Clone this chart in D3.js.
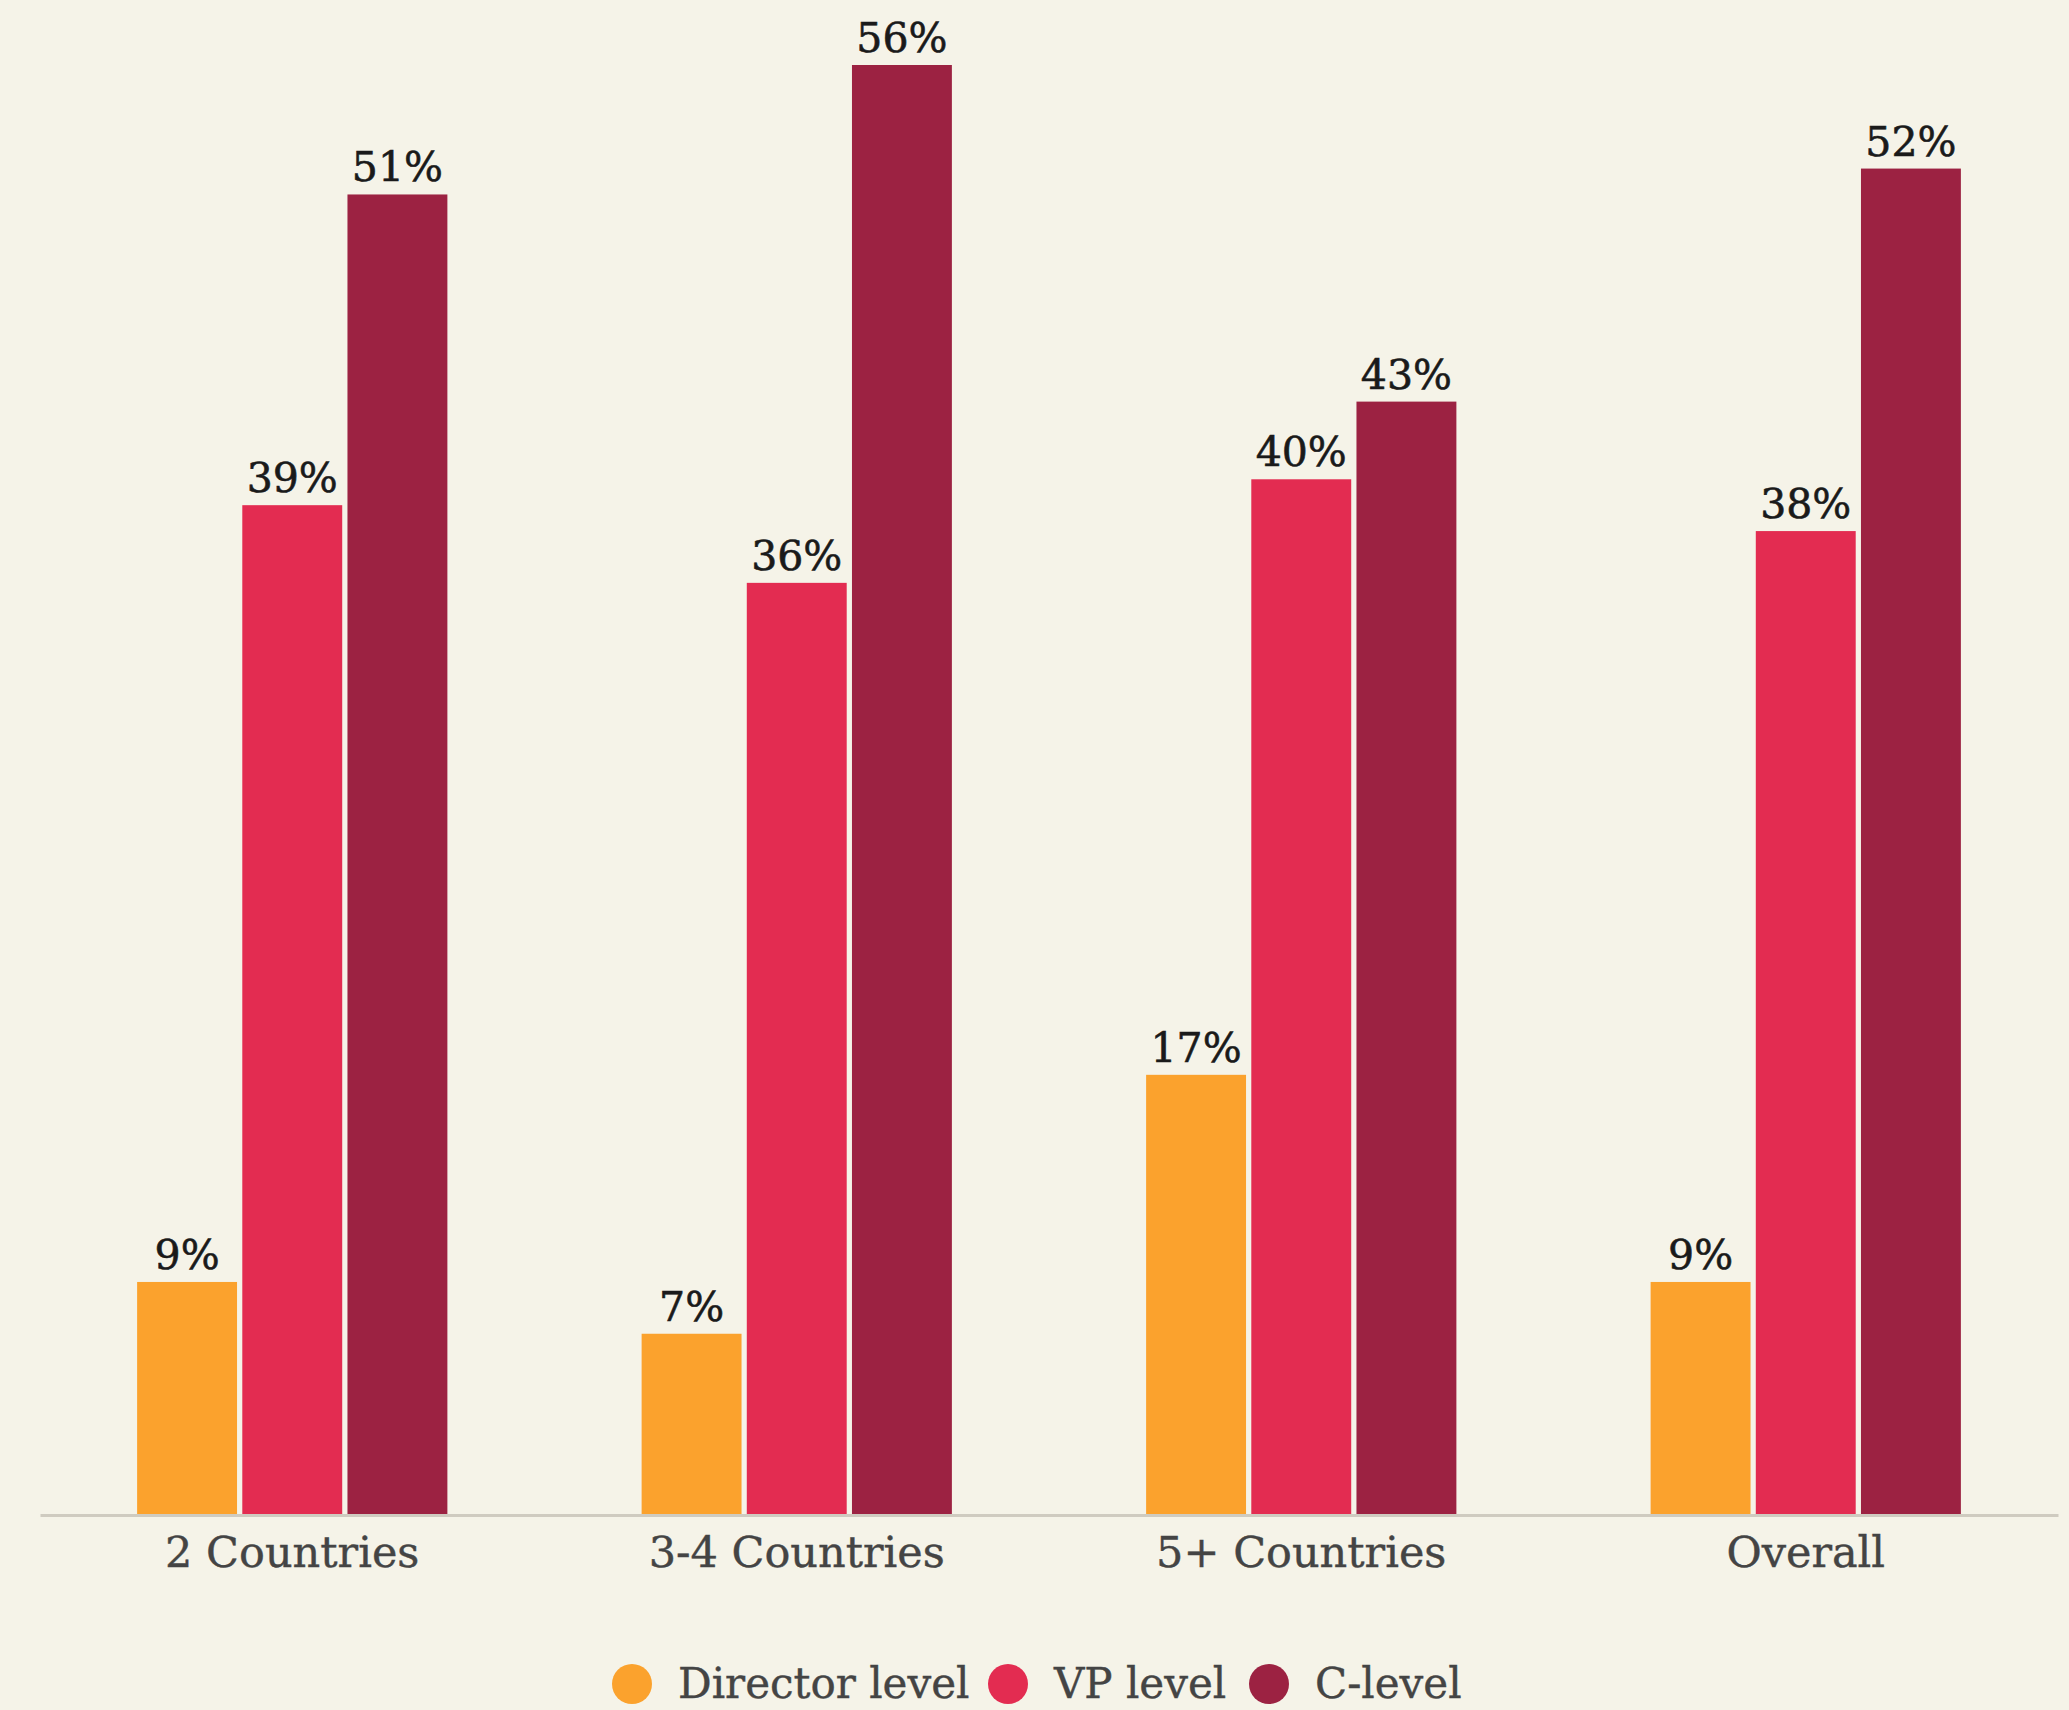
<!DOCTYPE html>
<html><head><meta charset="utf-8">
<script src="https://cdn.jsdelivr.net/npm/d3@7"></script>
<style>
html,body{margin:0;padding:0;background:#f5f3e8;}
svg{display:block;}
</style></head>
<body>
<svg id="chart" width="2069" height="1710"></svg>
<script>
const categories = ["2 Countries", "3-4 Countries", "5+ Countries", "Overall"];
const seriesNames = ["Director level", "VP level", "C-level"];
const directorLevel = [9, 7, 17, 9];
const vpLevel = [39, 36, 40, 38];
const cLevel = [51, 56, 43, 52];
const seriesValues = [directorLevel, vpLevel, cLevel];
const colors = ["#fba22d", "#e32c51", "#9c2242"];

const W = 2069, H = 1710;
const baseY = 1515, left = 40, right = 2058;
const font = "'DejaVu Serif', serif";

const svg = d3.select("#chart");
svg.append("rect").attr("width", W).attr("height", H).attr("fill", "#f5f3e8");

const x0 = d3.scaleBand().domain(categories).range([left, right]).paddingInner(0.385).paddingOuter(0.1925);
const x1 = d3.scaleBand().domain(seriesNames).range([0, x0.bandwidth()]).paddingInner(0.05);
const y = d3.scaleLinear().domain([0, 56]).range([baseY, 65]);

const data = [];
categories.forEach((c, i) => seriesNames.forEach((s, j) => data.push({cat: c, ser: s, v: seriesValues[j][i], j})));

const g = svg.append("g");
g.selectAll("rect.bar").data(data).join("rect")
  .attr("class", "bar")
  .attr("x", d => x0(d.cat) + x1(d.ser))
  .attr("y", d => y(d.v))
  .attr("width", x1.bandwidth())
  .attr("height", d => baseY - y(d.v))
  .attr("fill", d => colors[d.j]);

g.selectAll("text.val").data(data).join("text")
  .attr("class", "val")
  .attr("x", d => x0(d.cat) + x1(d.ser) + x1.bandwidth() / 2)
  .attr("y", d => y(d.v) - 13)
  .attr("text-anchor", "middle")
  .attr("font-family", font)
  .attr("font-size", 41)
  .attr("fill", "#1a1a1a")
  .attr("stroke", "#1a1a1a")
  .attr("stroke-width", 0.6)
  .text(d => d.v + "%");

// axis
const xAxis = d3.axisBottom(x0).tickSize(0).tickPadding(21);
const ax = svg.append("g").attr("transform", `translate(0,${baseY})`).call(xAxis);
ax.select(".domain").attr("stroke", "#cfcbc0").attr("stroke-width", 3);
ax.selectAll("text").attr("font-family", font).attr("font-size", 43).attr("fill", "#444")
  .attr("stroke", "#444").attr("stroke-width", 0.4).attr("dy", "0.71em");

// legend
const legendX = [632, 1008, 1269];
const lg = svg.append("g");
seriesNames.forEach((s, i) => {
  lg.append("circle").attr("cx", legendX[i]).attr("cy", 1684).attr("r", 20).attr("fill", colors[i]);
  lg.append("text").attr("x", legendX[i] + 46).attr("y", 1698)
    .attr("font-family", font).attr("font-size", 42).attr("fill", "#444")
    .attr("stroke", "#444").attr("stroke-width", 0.4)
    .text(s);
});
</script>
</body></html>
